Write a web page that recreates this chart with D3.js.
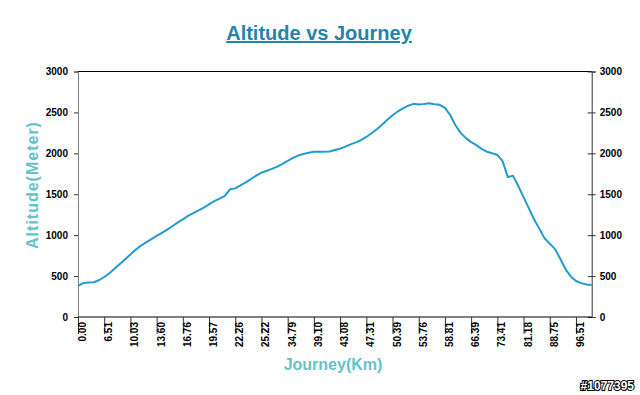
<!DOCTYPE html>
<html>
<head>
<meta charset="utf-8">
<script src="https://cdn.jsdelivr.net/npm/d3@7"></script>
<style>
  html, body { margin: 0; padding: 0; background: #fff; }
  svg { display: block; font-family: "Liberation Sans", Arial, sans-serif; }
</style>
</head>
<body>
<svg id="chart" width="640" height="395"></svg>
<script>
// ---- data ----
const altitude = [
  380, 414, 423, 425, 449, 489, 535, 592, 649, 707,
  764, 822, 872, 912, 951, 992, 1029, 1067, 1109, 1153,
  1194, 1235, 1270, 1302, 1337, 1377, 1415, 1447, 1479, 1560,
  1572, 1608, 1646, 1686, 1728, 1763, 1787, 1810, 1838, 1870,
  1907, 1945, 1973, 1991, 2008, 2018, 2020, 2020, 2022, 2040,
  2057, 2082, 2109, 2134, 2162, 2200, 2245, 2295, 2350, 2410,
  2465, 2512, 2550, 2582, 2605, 2597, 2603, 2611, 2601, 2593,
  2556, 2468, 2343, 2250, 2186, 2137, 2100, 2055, 2020, 2002,
  1980, 1905, 1710, 1725, 1600, 1465, 1330, 1195, 1080, 962,
  897, 830, 712, 586, 496, 440, 414, 398, 390
];
const labelEvery = 5;
const xTickLabels = [
  "0.00", "6.51", "10.03", "13.60", "16.76", "19.57", "22.26", "25.22", "34.79", "39.10",
  "43.08", "47.31", "50.39", "53.76", "58.81", "66.39", "73.41", "81.18", "88.75", "96.51"
];
const yTicks = [0, 500, 1000, 1500, 2000, 2500, 3000];
const titleText = "Altitude vs Journey";
const xTitle = "Journey(Km)";
const yTitle = "Altitude(Meter)";
const watermark = "#1077395";

// ---- layout ----
const svg = d3.select("#chart");
const plotLeft = 78, plotRight = 591.7, plotTop = 71.5, plotBottom = 317;

const x = d3.scaleLinear().domain([0, altitude.length - 1]).range([plotLeft, plotRight]);
const y = d3.scaleLinear().domain([0, 3000]).range([plotBottom, plotTop]);

// title
svg.append("text")
  .attr("x", 319).attr("y", 40)
  .attr("text-anchor", "middle")
  .attr("font-size", 20).attr("font-weight", "bold")
  .attr("fill", "#2484ab")
  .attr("text-decoration", "underline")
  .text(titleText);

// top border
svg.append("line")
  .attr("x1", x(0)).attr("x2", x(altitude.length - 1))
  .attr("y1", y(3000)).attr("y2", y(3000))
  .attr("stroke", "#000").attr("stroke-width", 1);

// left axis
const gL = svg.append("g").attr("transform", `translate(${plotLeft},0)`)
  .call(d3.axisLeft(y).tickValues(yTicks).tickSize(4).tickPadding(6).tickFormat(d3.format("d")));
gL.select(".domain").attr("stroke", "#808080");
gL.selectAll(".tick line").attr("stroke", "#333");
gL.selectAll("text").attr("font-size", 10).attr("font-weight", "bold").attr("fill", "#000")
  .attr("font-family", "Liberation Sans, Arial, sans-serif");

// right axis
const gR = svg.append("g").attr("transform", `translate(${plotRight},0)`)
  .call(d3.axisRight(y).tickValues(yTicks).tickSize(4).tickPadding(4).tickFormat(d3.format("d")));
gR.select(".domain").attr("stroke", "#333");
gR.selectAll(".tick line").attr("x1", -4).attr("x2", 4).attr("stroke", "#333");
gR.selectAll("text").attr("font-size", 10).attr("font-weight", "bold").attr("fill", "#000")
  .attr("x", 8)
  .attr("font-family", "Liberation Sans, Arial, sans-serif");

// bottom axis
const xTickIdx = xTickLabels.map((_, i) => i * labelEvery);
const gB = svg.append("g").attr("transform", `translate(0,${plotBottom})`)
  .call(d3.axisBottom(x).tickValues(xTickIdx).tickSize(17)
    .tickFormat((d) => xTickLabels[d / labelEvery]));
gB.select(".domain").attr("stroke", "#000").attr("d", `M${plotLeft},0H${plotRight}`);
gB.selectAll(".tick line").attr("stroke", "#333");
gB.selectAll(".tick text")
  .attr("font-size", 10).attr("font-weight", "bold").attr("fill", "#000")
  .attr("font-family", "Liberation Sans, Arial, sans-serif")
  .attr("text-anchor", "end")
  .attr("transform", "rotate(-90)")
  .attr("x", -5).attr("y", 4).attr("dy", "0.35em");

// line
svg.append("path")
  .datum(altitude)
  .attr("fill", "none")
  .attr("stroke", "#229cce")
  .attr("stroke-width", 2)
  .attr("stroke-linejoin", "round")
  .attr("d", d3.line().x((d, i) => x(i)).y((d) => y(d)));

// axis titles
svg.append("text")
  .attr("x", 333).attr("y", 370)
  .attr("text-anchor", "middle")
  .attr("font-size", 16).attr("font-weight", "bold")
  .attr("fill", "#63c3cb")
  .text(xTitle);

svg.append("text")
  .attr("transform", "translate(38,185) rotate(-90)")
  .attr("text-anchor", "middle")
  .attr("font-size", 16).attr("font-weight", "bold")
  .attr("letter-spacing", 1)
  .attr("fill", "#63c3cb")
  .text(yTitle);

// watermark
svg.append("text")
  .attr("x", 634).attr("y", 390)
  .attr("text-anchor", "end")
  .attr("font-size", 12).attr("font-weight", "bold")
  .attr("fill", "#fff").attr("stroke", "#000").attr("stroke-width", 2)
  .attr("paint-order", "stroke")
  .text(watermark);
</script>
</body>
</html>
